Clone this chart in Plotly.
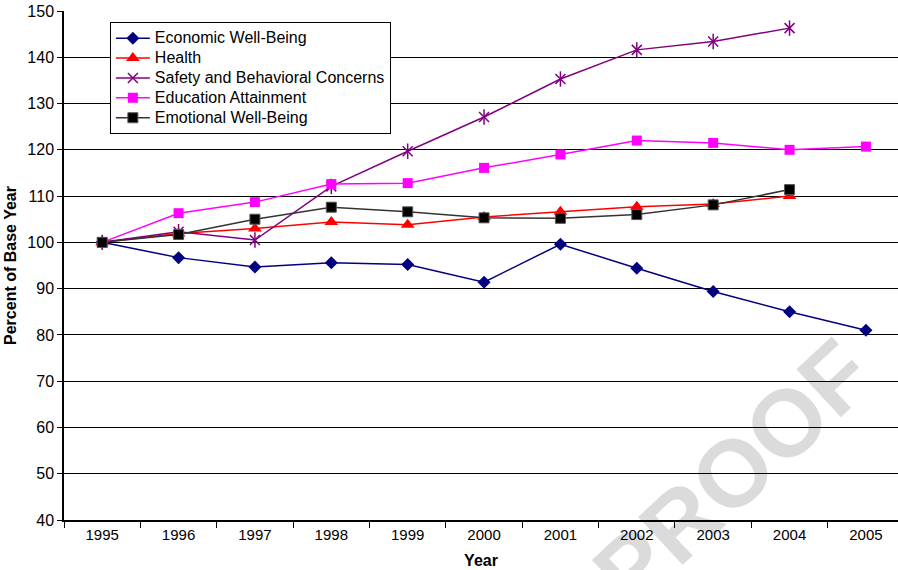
import plotly.graph_objects as go

# Index values (base year 1995 = 100) by domain
years = ["1995", "1996", "1997", "1998", "1999", "2000", "2001", "2002", "2003", "2004", "2005"]
economic = [100, 96.7, 94.7, 95.6, 95.2, 91.4, 99.6, 94.4, 89.4, 85.0, 81.0]
health = [100, 101.9, 103.0, 104.4, 103.8, 105.5, 106.6, 107.7, 108.3, 110.0, None]
safety = [100, 102.3, 100.5, 112.1, 119.7, 127.1, 135.3, 141.6, 143.4, 146.3, None]
education = [100, 106.3, 108.7, 112.6, 112.8, 116.1, 119.0, 122.0, 121.5, 120.0, 120.7]
emotional = [100, 101.7, 105.0, 107.6, 106.6, 105.3, 105.2, 106.0, 108.1, 111.4, None]

y_ticks = [40, 50, 60, 70, 80, 90, 100, 110, 120, 130, 140, 150]

FONT = "Liberation Sans, Arial, sans-serif"


def legend_name(text):
    # legend rows are spaced for a smaller font; the label itself is set at 16px
    return f"<span style='font-size:16px'>{text}</span>"


fig = go.Figure()

fig.add_trace(go.Scatter(
    x=years, y=economic, name=legend_name("Economic Well-Being"), mode="lines+markers",
    line=dict(color="#000080", width=1.5),
    marker=dict(symbol="diamond", size=10, color="#000080"),
))
fig.add_trace(go.Scatter(
    x=years, y=health, name=legend_name("Health"), mode="lines+markers",
    line=dict(color="#ff0000", width=1.5),
    marker=dict(symbol="triangle-up", size=12, color="#ff0000"),
))
fig.add_trace(go.Scatter(
    x=years, y=safety, name=legend_name("Safety and Behavioral Concerns"), mode="lines+markers",
    line=dict(color="#800080", width=1.5),
    marker=dict(symbol="x-thin-open", size=10, color="#800080",
                line=dict(color="#800080", width=1.5)),
))
# vertical stroke completing the six-armed star marker
fig.add_trace(go.Scatter(
    x=years, y=safety, mode="markers", showlegend=False, hoverinfo="skip",
    marker=dict(symbol="line-ns-open", size=11, color="#800080",
                line=dict(color="#800080", width=1.5)),
))
fig.add_trace(go.Scatter(
    x=years, y=education, name=legend_name("Education Attainment"), mode="lines+markers",
    line=dict(color="#ff00ff", width=1.5),
    marker=dict(symbol="square", size=10, color="#ff00ff"),
))
fig.add_trace(go.Scatter(
    x=years, y=emotional, name=legend_name("Emotional Well-Being"), mode="lines+markers",
    line=dict(color="#333333", width=1.5),
    marker=dict(symbol="square", size=10, color="#000000",
                line=dict(color="#555555", width=1)),
))

# translucent watermark: light grey on white, while black lines and labels stay black
fig.add_annotation(
    text="<b>PROOF</b>", xref="paper", yref="paper", x=0.802, y=0.092,
    xanchor="center", yanchor="middle", showarrow=False, textangle=-43,
    font=dict(family=FONT, size=95, color="rgba(0,0,0,0.14)"),
)

fig.update_layout(
    width=898, height=570,
    margin=dict(l=64, r=0, t=11, b=50),
    paper_bgcolor="white", plot_bgcolor="white",
    font=dict(family=FONT, size=15, color="#000000"),
    showlegend=True,
    legend=dict(
        x=0.055, y=0.978, xanchor="left", yanchor="top",
        bgcolor="white", bordercolor="#000000", borderwidth=1,
        font=dict(family=FONT, size=13, color="#000000"),
        tracegroupgap=0, itemwidth=34,
    ),
    xaxis=dict(
        type="category", range=[-0.5, 10.42],
        tickson="boundaries", ticks="outside", ticklen=6, tickcolor="#000000",
        showgrid=False, showline=True, linecolor="#000000", linewidth=2,
        tickfont=dict(family=FONT, size=15),
        title=dict(text="<b>Year</b>", font=dict(family=FONT, size=16), standoff=13),
        zeroline=False,
    ),
    yaxis=dict(
        range=[40, 150], tickvals=y_ticks,
        ticks="outside", ticklen=5, tickcolor="#000000",
        showgrid=True, gridcolor="#000000", gridwidth=1,
        showline=True, linecolor="#000000", linewidth=1.5,
        tickfont=dict(family=FONT, size=16),
        title=dict(text="<b>Percent of Base Year</b>", font=dict(family=FONT, size=16), standoff=7),
        zeroline=False,
    ),
)

fig.write_html("out.html")
